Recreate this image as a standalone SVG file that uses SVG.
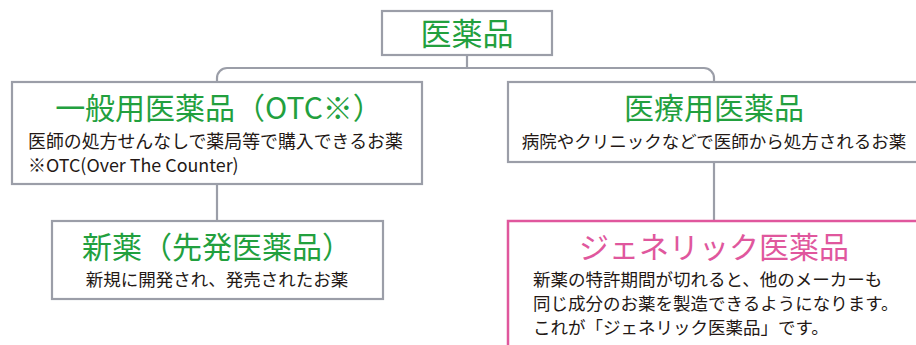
<svg xmlns="http://www.w3.org/2000/svg" width="916" height="345" viewBox="0 0 916 345">
<style>
.box{fill:#fff;stroke:#9b9ea8;stroke-width:2.2}
.pbox{fill:#fff;stroke:#e0579d;stroke-width:2.5}
.conn{fill:none;stroke:#9b9ea8;stroke-width:2.2}
.t{font-family:"Noto Sans CJK JP","Noto Sans",sans-serif;font-size:30px;fill:#22a03e;text-anchor:middle}
.tp{fill:#e0579d}
.s{font-family:"Noto Sans CJK JP","Noto Sans",sans-serif;font-size:17.5px;fill:#231815}
.c{text-anchor:middle}
</style>
<rect width="916" height="345" fill="#fff"/>
<g id="connectors">
<path class="conn" d="M467,55 V68"/>
<path class="conn" d="M217,82 V78 A10,10 0 0 1 227,68 H704 A10,10 0 0 1 714,78 V82"/>
<path class="conn" d="M217,184 V221"/>
<path class="conn" d="M714,162 V221"/>
</g>
<g id="node-root">
<rect class="box" x="382" y="11" width="170" height="44"/>
<text class="t" x="467" y="45" style="font-size:31px">医薬品</text>
</g>
<g id="node-otc">
<rect class="box" x="12" y="82" width="410" height="102"/>
<text class="t" x="219" y="118.5">一般用医薬品（OTC※）</text>
<text class="s" x="28" y="148" style="font-size:17.9px">医師の処方せんなしで薬局等で購入できるお薬</text>
<text class="s" x="28" y="172" style="font-size:17.9px">※OTC(Over The Counter)</text>
</g>
<g id="node-medical">
<rect class="box" x="508" y="82" width="420" height="80"/>
<text class="t" x="714" y="119">医療用医薬品</text>
<text class="s c" x="714" y="148">病院やクリニックなどで医師から処方されるお薬</text>
</g>
<g id="node-new">
<rect class="box" x="52" y="221" width="331" height="78"/>
<text class="t" x="217" y="258">新薬（先発医薬品）</text>
<text class="s c" x="217" y="286">新規に開発され、発売されたお薬</text>
</g>
<g id="node-generic">
<rect class="pbox" x="508" y="221" width="420" height="140"/>
<text class="t tp" x="714" y="258">ジェネリック医薬品</text>
<text class="s" x="533" y="286">新薬の特許期間が切れると、他のメーカーも</text>
<text class="s" x="533" y="310">同じ成分のお薬を製造できるようになります。</text>
<text class="s" x="533" y="334">これが「ジェネリック医薬品」です。</text>
</g>
</svg>
